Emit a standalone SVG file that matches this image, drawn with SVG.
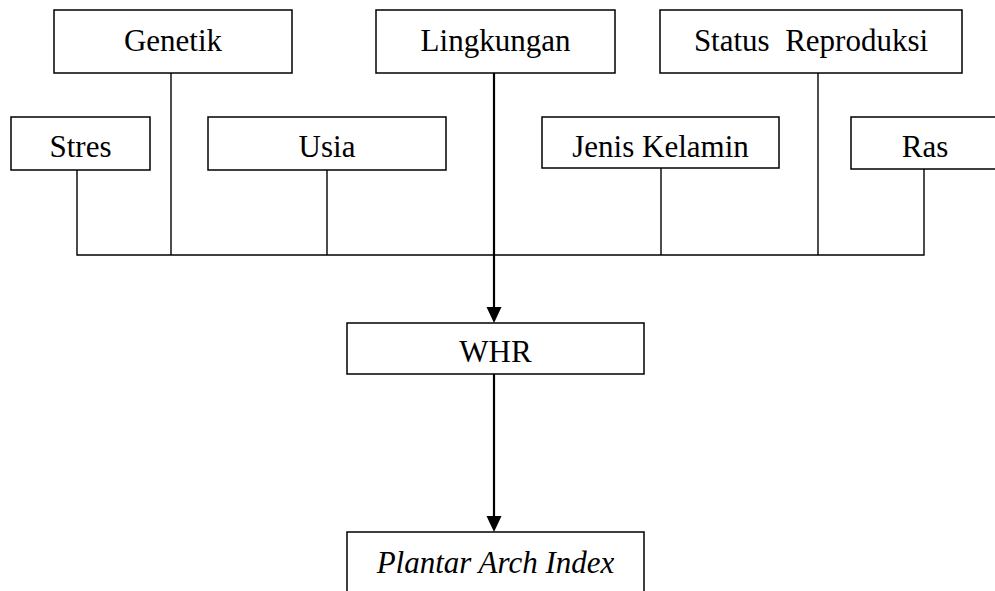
<svg xmlns="http://www.w3.org/2000/svg" width="995" height="591" viewBox="0 0 995 591">
<style>
.box{fill:#fff;stroke:#000;stroke-width:1.5}
.t{font-family:"Liberation Serif","Times New Roman",serif;font-size:31px;fill:#000;text-anchor:middle}
.it{font-style:italic}
.ln{fill:none;stroke:#000;stroke-width:1.4}
.th{fill:none;stroke:#000;stroke-width:2.2}
</style>
<defs>
<marker id="ah" markerUnits="userSpaceOnUse" markerWidth="16" markerHeight="17" refX="7.5" refY="16" orient="auto-start-reverse" viewBox="0 0 15 16">
<path d="M0,0 L15,0 L7.5,16 Z" fill="#000"/>
</marker>
</defs>
<g id="connectors">
<polyline class="ln" points="77,170 77,255 924,255 924,169"/>
<line class="ln" x1="171" y1="73" x2="171" y2="255"/>
<line class="ln" x1="327" y1="170" x2="327" y2="255"/>
<line class="ln" x1="661" y1="168" x2="661" y2="255"/>
<line class="ln" x1="818" y1="73" x2="818" y2="255"/>
<line class="th" x1="494" y1="73" x2="494" y2="307"/>
<path d="M486.5,307 L501.5,307 L494,323 Z" fill="#000"/>
<line class="th" x1="494" y1="374" x2="494" y2="516"/>
<path d="M486.5,516 L501.5,516 L494,532 Z" fill="#000"/>
</g>
<g id="genetik"><rect class="box" x="54" y="10" width="238" height="63"/><text class="t" x="173" y="51">Genetik</text></g>
<g id="lingkungan"><rect class="box" x="376" y="10" width="239" height="63"/><text class="t" x="495.5" y="51">Lingkungan</text></g>
<g id="status"><rect class="box" x="660" y="10" width="302" height="63"/><text class="t" x="811" y="51" xml:space="preserve">Status  Reproduksi</text></g>
<g id="stres"><rect class="box" x="11" y="117" width="139" height="53"/><text class="t" x="80.5" y="157">Stres</text></g>
<g id="usia"><rect class="box" x="208" y="117" width="238" height="53"/><text class="t" x="327" y="157">Usia</text></g>
<g id="jenis"><rect class="box" x="542" y="117" width="237" height="51"/><text class="t" x="660.5" y="157">Jenis Kelamin</text></g>
<g id="ras"><rect class="box" x="851" y="117" width="148" height="52"/><text class="t" x="925" y="157">Ras</text></g>
<g id="whr"><rect class="box" x="347" y="323" width="297" height="51"/><text class="t" x="495.5" y="362">WHR</text></g>
<g id="pai"><rect class="box" x="347" y="532" width="297" height="70"/><text class="t it" x="495.5" y="573">Plantar Arch Index</text></g>
</svg>
